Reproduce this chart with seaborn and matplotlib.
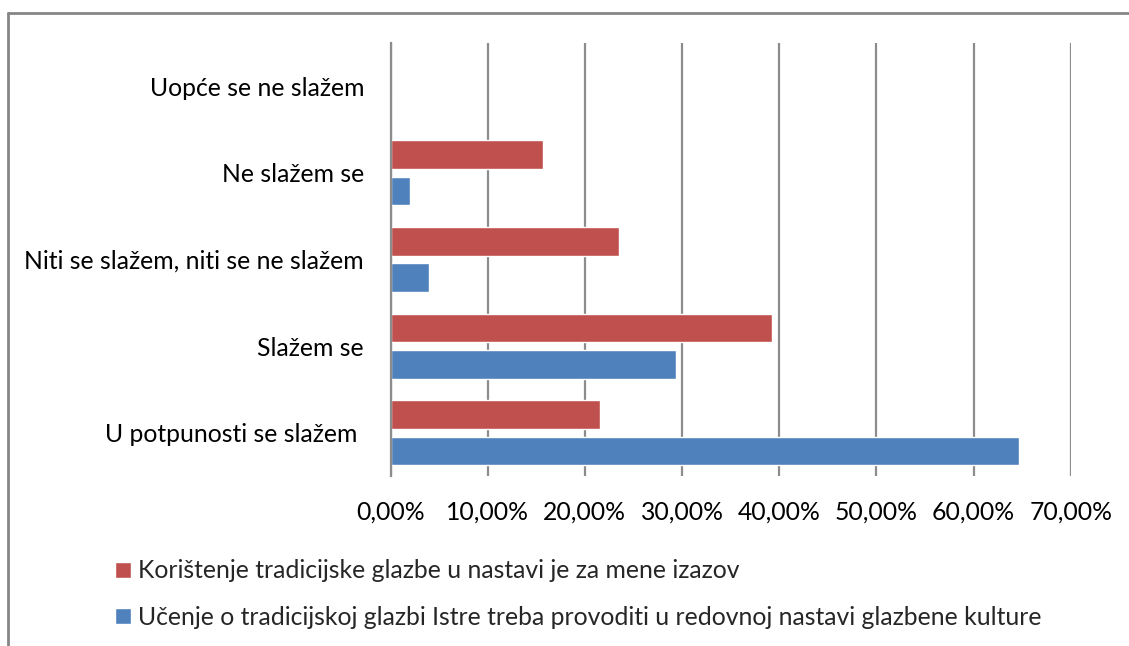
import pandas as pd
import matplotlib.pyplot as plt
import seaborn as sns
from matplotlib.patches import Patch
from matplotlib.ticker import FuncFormatter

# kategorije odozgo prema dolje
kategorije = ["Uopće se ne slažem", "Ne slažem se",
              "Niti se slažem, niti se ne slažem", "Slažem se",
              "U potpunosti se slažem "]

serija_izazov = "Korištenje tradicijske glazbe u nastavi je za mene izazov"
serija_istra = "Učenje o tradicijskoj glazbi Istre treba provoditi u redovnoj nastavi glazbene kulture"

# postoci (%)
izazov = [0.0, 15.69, 23.53, 39.22, 21.57]
istra = [0.0, 1.96, 3.92, 29.41, 64.71]

x_ticks = [0, 10, 20, 30, 40, 50, 60, 70]

boja_crvena = "#C0504D"
boja_plava = "#4F81BD"
siva = "#8C8C8C"


def gerar_grafico():
    df = pd.DataFrame({
        "kategorija": kategorije * 2,
        "serija": [serija_izazov] * len(kategorije) + [serija_istra] * len(kategorije),
        "postotak": izazov + istra,
    })

    sns.set_theme(style="white")
    plt.rcParams["font.family"] = ["Lato", "DejaVu Sans"]

    fig = plt.figure(figsize=(11.29, 6.46), dpi=100)
    ax = fig.add_axes([390.5 / 1129, 1 - 476 / 646, 680.2 / 1129, 433 / 646])

    sns.barplot(data=df, y="kategorija", x="postotak", hue="serija",
                order=kategorije, hue_order=[serija_izazov, serija_istra],
                palette=[boja_crvena, boja_plava], orient="h", saturation=1,
                width=0.84, gap=0.21, legend=False, ax=ax)

    ax.set_xlim(0, 70)
    ax.set_xticks(x_ticks)
    ax.xaxis.set_major_formatter(FuncFormatter(lambda v, p: f"{v:.2f}".replace(".", ",") + "%"))
    ax.grid(axis="x", color=siva, linewidth=1.6)
    ax.grid(axis="y", visible=False)
    ax.set_axisbelow(True)
    for s in ["top", "right", "bottom"]:
        ax.spines[s].set_visible(False)
    ax.spines["left"].set_color(siva)
    ax.spines["left"].set_linewidth(1.6)
    ax.set_xlabel("")
    ax.set_ylabel("")
    ax.tick_params(axis="x", length=0, pad=18, labelsize=17.8, colors="black")
    ax.tick_params(axis="y", length=0, pad=19, labelsize=17.8, colors="black")

    handles = [Patch(facecolor=boja_crvena), Patch(facecolor=boja_plava)]
    fig.legend(handles, [serija_izazov, serija_istra], loc="upper left",
               bbox_to_anchor=(103 / 1129, 1 - 547 / 646), frameon=False,
               fontsize=17.8, handlelength=0.62, handleheight=0.62,
               handletextpad=0.3, labelspacing=0.95, borderpad=0)

    # okvir grafikona (gornji i lijevi rub)
    fig.add_artist(plt.Line2D([8 / 1129, 1], [1 - 13 / 646, 1 - 13 / 646],
                              color="#868686", linewidth=2, transform=fig.transFigure))
    fig.add_artist(plt.Line2D([8 / 1129, 8 / 1129], [0, 1 - 13 / 646],
                              color="#868686", linewidth=2, transform=fig.transFigure))

    fig.savefig("out.png", dpi=100)


if __name__ == "__main__":
    gerar_grafico()
